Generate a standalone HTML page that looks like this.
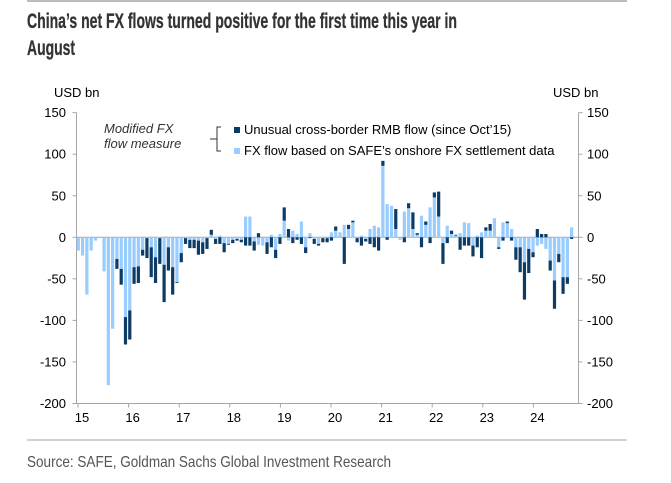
<!DOCTYPE html>
<html><head><meta charset="utf-8"><style>
html,body{margin:0;padding:0;background:#fff;}
svg{display:block;font-family:"Liberation Sans",Arial,sans-serif;}
</style></head><body>
<svg id="chart" width="671" height="483" viewBox="0 0 671 483" xmlns="http://www.w3.org/2000/svg">
<line x1="27" y1="1" x2="627" y2="1" stroke="#a6a6a6" stroke-width="1.5"/>
<text x="27" y="28" font-family="'Liberation Sans Narrow','Liberation Sans',sans-serif" font-weight="bold" font-size="21" fill="#333" stroke="#333" stroke-width="0.3" textLength="430" lengthAdjust="spacingAndGlyphs">China’s net FX flows turned positive for the first time this year in</text>
<text x="27" y="55" font-family="'Liberation Sans Narrow','Liberation Sans',sans-serif" font-weight="bold" font-size="21" fill="#333" stroke="#333" stroke-width="0.3" textLength="48" lengthAdjust="spacingAndGlyphs">August</text>
<text x="54" y="97" font-size="13" fill="#000">USD bn</text>
<text x="553" y="97" font-size="13" fill="#000">USD bn</text>
<g id="axes"></g>
<g id="bars"></g>
<g>
<text x="104" y="133" font-size="13" font-style="italic" fill="#333">Modified FX</text>
<text x="104" y="148" font-size="13" font-style="italic" fill="#333">flow measure</text>
<path d="M221 127 L217 127 L217 151 L221 151 M217 139 L210 139" fill="none" stroke="#333" stroke-width="1"/>
<rect x="234" y="127" width="6" height="6" fill="#0c3c66"/>
<text x="244" y="134" font-size="13" fill="#000">Unusual cross-border RMB flow (since Oct’15)</text>
<rect x="234" y="148" width="6" height="6" fill="#99ccff"/>
<text x="244" y="155" font-size="13" fill="#000">FX flow based on SAFE’s onshore FX settlement data</text>
</g>
<line x1="27" y1="440" x2="627" y2="440" stroke="#a6a6a6" stroke-width="1"/>
<text x="27" y="467" font-family="'Liberation Sans Narrow','Liberation Sans',sans-serif" font-size="16" fill="#555" textLength="364" lengthAdjust="spacingAndGlyphs">Source: SAFE, Goldman Sachs Global Investment Research</text>
</svg>
<script>
const yTicks = [150, 100, 50, 0, -50, -100, -150, -200];
const yearLabels = ["15","16","17","18","19","20","21","22","23","24"];
const safeFlow = [-16,-22,-69,-16,-4,-1,-41,-178,-110,-26,-38,-96,-88,-36,-35,-15,-1,-12,-24,-1,-33,-12,-36,-54,-19,-1,-3,-3,-4,-6,-1,3,-2,2,-7,-8,-3,-2,-3,25,25,-5,-9,-10,-6,3,-15,4,20,-4,8,4,19,-12,5,-2,-8,-1,-1,6,8,6,15,10,18,-1,2,-2,10,14,12,86,40,38,10,-3,31,35,10,3,26,15,36,48,25,-7,14,4,2,5,18,17,-10,2,6,8,8,23,-12,18,17,10,-12,-12,-30,-14,-18,-10,-8,-14,-28,-52,-20,-48,-48,12];
const rmbFlow = [null,null,null,null,null,null,null,null,null,-12,-19,-33,-35,-20,-20,-7,-24,-36,-31,-31,-45,-28,-33,-1,-11,-7,-10,-10,-17,-14,-13,6,-6,-8,-11,-1,-4,-2,-3,-10,-10,-11,5,0,-14,-12,-10,-8,16,10,-7,-3,-8,-7,-1,-6,-2,-5,-5,-4,5,0,-32,5,2,-5,-10,-3,-8,-12,-16,6,-3,0,24,0,-6,6,20,2,-12,4,-7,6,30,-25,-7,4,1,-15,-10,-10,-13,-12,-25,4,8,0,-2,-4,2,-4,-15,-30,-45,-29,-6,10,4,4,-12,-34,-10,-20,-8,-2];

const NS = "http://www.w3.org/2000/svg";
const X0 = 78.3, DX = 4.29, BW = 3.2;
const Y0 = 237.3, KY = 0.831;
const xPos = i => X0 + i * DX;
const yPos = v => Y0 - v * KY;
const yearX = k => 82 + k * 50.6;
const AXL = 76.5, AXR = 578.5;
function mk(tag, attrs, parent){const e=document.createElementNS(NS,tag);for(const k in attrs)e.setAttribute(k,attrs[k]);parent.appendChild(e);return e;}
const axes = document.getElementById('axes');
const bars = document.getElementById('bars');

const la = mk('line',{x1:AXL,y1:yPos(150),x2:AXL,y2:yPos(-200),stroke:'#a6a6a6','stroke-width':1},axes);


const ra = mk('line',{x1:AXR,y1:yPos(150),x2:AXR,y2:yPos(-200),stroke:'#a6a6a6','stroke-width':1},axes);


const ba = mk('line',{x1:AXL,y1:yPos(-200),x2:AXR,y2:yPos(-200),stroke:'#a6a6a6','stroke-width':1},axes);


const zl = mk('line',{x1:AXL,y1:yPos(0),x2:AXR,y2:yPos(0),stroke:'#a6a6a6','stroke-width':1},axes);



yTicks.forEach(v=>{
  const y=yPos(v);
  mk('line',{x1:AXL-4,y1:y,x2:AXL,y2:y,stroke:'#a6a6a6'},axes);
  mk('line',{x1:AXR,y1:y,x2:AXR+4,y2:y,stroke:'#a6a6a6'},axes);
  const t=mk('text',{x:66,y:y+4.5,'text-anchor':'end','font-size':13,fill:'#000'},axes);
  t.textContent=v;
  
  
  const t2=mk('text',{x:587,y:y+4.5,'font-size':13,fill:'#000'},axes);
  t2.textContent=v;
  
  
});
yearLabels.forEach((s,k)=>{
  const x = yearX(k);
  mk('line',{x1:x-4,y1:yPos(-200),x2:x-4,y2:yPos(-200)+4,stroke:'#a6a6a6'},axes);
  const t=mk('text',{x:x,y:422,'text-anchor':'middle','font-size':13,fill:'#000'},axes);
  t.textContent=s;
  
  
});

safeFlow.forEach((v,i)=>{
  const x=xPos(i)-BW/2;
  const r=mk('rect',{x:x,y:Math.min(yPos(0),yPos(v)),width:BW,height:Math.abs(v)*KY,fill:'#99ccff'},bars);
  
  
  const d=rmbFlow[i];
  if(d===null||d===0) return;
  const base=(Math.sign(d)===Math.sign(v))?v:0;
  const top=base+d;
  const r2=mk('rect',{x:x,y:Math.min(yPos(base),yPos(top)),width:BW,height:Math.abs(d)*KY,fill:'#0c3c66'},bars);
  
  
});
</script>
</body></html>
